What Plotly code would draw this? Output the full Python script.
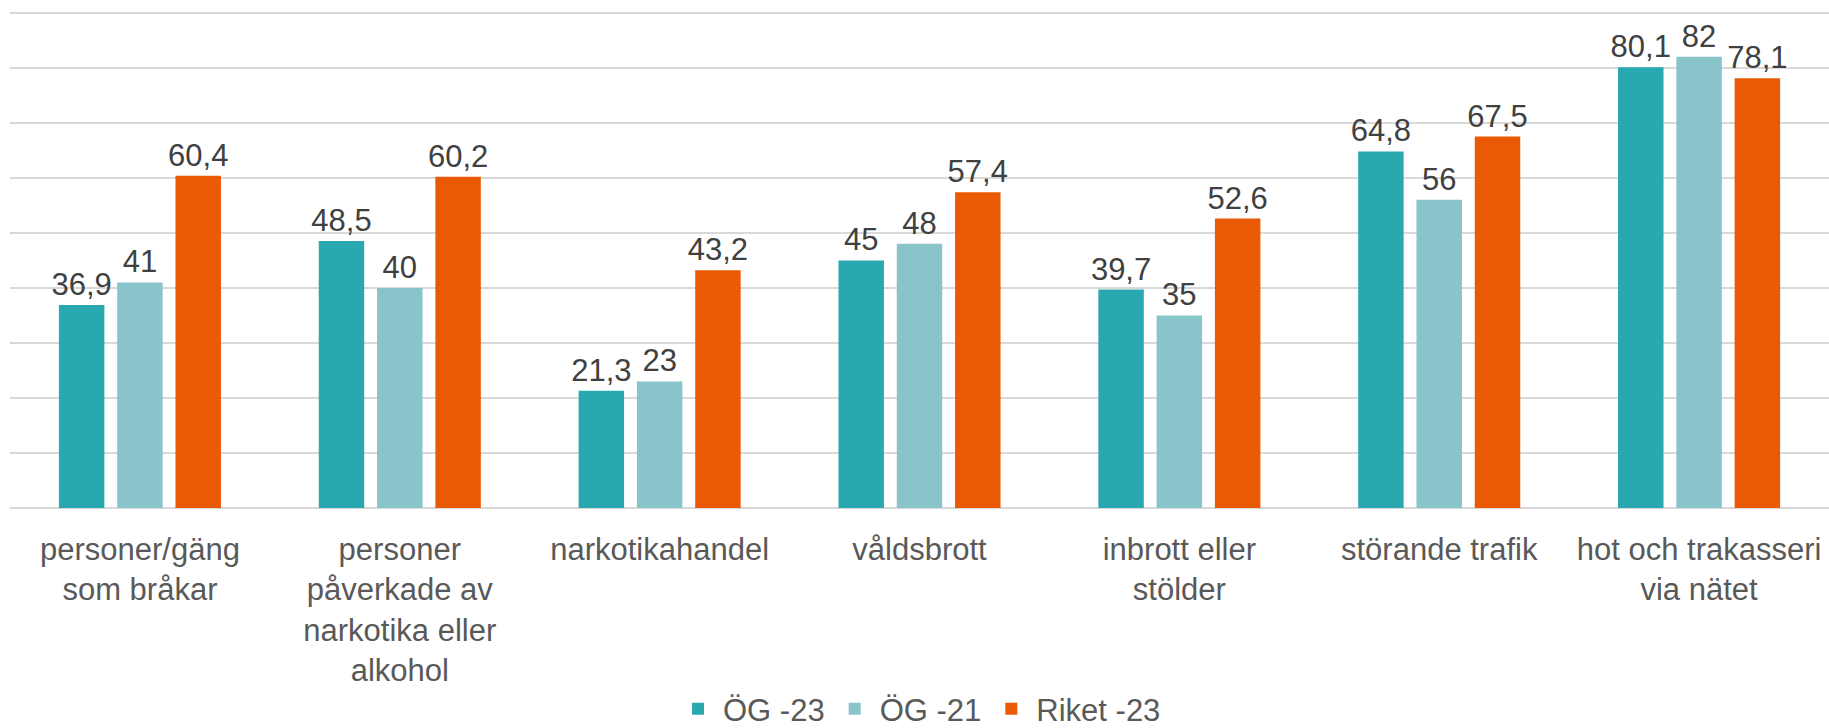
import plotly.graph_objects as go

categories = [
    "personer/gäng<br>som bråkar",
    "personer<br>påverkade av<br>narkotika eller<br>alkohol",
    "narkotikahandel",
    "våldsbrott",
    "inbrott eller<br>stölder",
    "störande trafik",
    "hot och trakasseri<br>via nätet",
]
og23 = [36.9, 48.5, 21.3, 45, 39.7, 64.8, 80.1]
og21 = [41, 40, 23, 48, 35, 56, 82]
riket23 = [60.4, 60.2, 43.2, 57.4, 52.6, 67.5, 78.1]

series = [("ÖG -23", og23, "#2AA8B0"), ("ÖG -21", og21, "#89C4CB"), ("Riket -23", riket23, "#EA5904")]

FONT = "Liberation Sans, Arial, sans-serif"

fig = go.Figure()
for name, vals, col in series:
    fig.add_trace(go.Bar(
        name=name, x=categories, y=vals, marker=dict(color=col, line=dict(width=0)),
        text=vals, texttemplate="%{y}", textposition="outside", constraintext="none",
        cliponaxis=False,
        textfont=dict(family=FONT, size=31, color="#404040"),
    ))

fig.update_layout(
    width=1829, height=728,
    margin=dict(l=10, r=0, t=10, b=220, autoexpand=False),
    plot_bgcolor="white", paper_bgcolor="white",
    barmode="group", bargap=0.327, bargroupgap=0.22,
    separators=", ",
    font=dict(family=FONT, color="#595959"),
    legend=dict(orientation="h", x=0.5, xanchor="center", y=-0.458, yanchor="bottom",
                font=dict(size=31, color="#595959"), traceorder="normal",
                itemwidth=40, borderwidth=0),
    showlegend=True,
)
fig.update_yaxes(range=[0, 90.5], dtick=10, showticklabels=False, gridcolor="#D9D9D9",
                 gridwidth=1.5, zeroline=True, zerolinecolor="#D9D9D9", zerolinewidth=1.5)
fig.update_xaxes(tickfont=dict(size=31, color="#595959"), ticks="", ticklabelstandoff=20,
                 showline=False, automargin=False)

fig.write_html("out.html", config={"displayModeBar": False},
               post_script="document.body.style.margin='0';document.body.style.overflow='hidden';")
